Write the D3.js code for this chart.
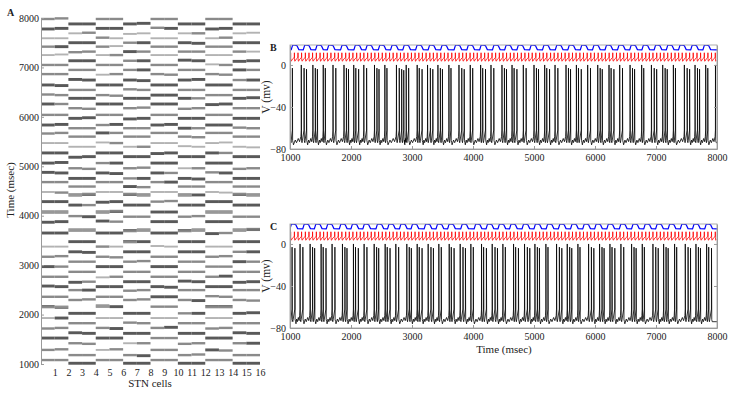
<!DOCTYPE html>
<html>
<head>
<meta charset="utf-8">
<script src="https://cdn.jsdelivr.net/npm/d3@7"></script>
<style>
body { margin: 0; background: #fff; }
text { font-family: "Liberation Serif", "Times New Roman", serif; fill: #222; }
</style>
</head>
<body>
<script>
// ---- panel A: burst centres (msec) of the two anti-phase STN clusters
const clusterOdd = [1080, 1285, 1525, 1730, 1930, 2160, 2360, 2565, 2765, 2970, 3170, 3375, 3650, 3880, 4075,
  4285, 4480, 4680, 4865, 5065, 5270, 5470, 5675, 5835, 6040, 6260, 6440, 6645, 6865, 7050, 7250, 7420, 7590, 7790, 7980]
const clusterEven = [1015, 1180, 1420, 1620, 1825, 2025, 2295, 2495, 2665, 2865, 3070, 3270, 3475, 3710, 3980,
  4215, 4420, 4590, 4755, 4960, 5195, 5395, 5600, 5770, 5970, 6175, 6375, 6545, 6745, 6950, 7135, 7320, 7500, 7690, 7880]

// per cell, one code per burst: 1 light, 2 mid, 3 dark, 4 split into thin lines, 0 none
const cellShade = [
  "22321 42323 21334 31233 31232 32322 12132",
  "22323 42322 21334 32233 31232 22322 13132",
  "32232 32232 23342 34232 31223 23232 32313",
  "32232 32322 23343 24232 31223 23232 32323",
  "21321 42313 22334 31232 31322 32312 12232",
  "22331 32323 21324 31233 32232 32322 21132",
  "32132 32232 23442 34322 31223 23232 23213",
  "33232 32232 23342 34232 32223 23233 32313",
  "22221 23323 21333 21233 31232 33322 12122",
  "22231 23323 21333 21323 31232 33322 12132",
  "32232 22232 23342 34231 31233 23232 32313",
  "32232 33232 23342 33232 31223 22232 32323",
  "23321 42322 21334 31223 31232 32321 12132",
  "22321 42332 21234 31233 21232 32322 12232",
  "32232 32232 32342 34232 31223 23223 32313",
  "32332 32232 23342 34232 31223 23232 31313"
]
// per cell, small timing offsets of each burst (5 = on the cluster time)
const cellShift = [
  "55545 55655 55545 55565 55455 56555 55545",
  "56555 45555 65555 54556 55565 55455 65556",
  "55565 55545 55556 55555 45555 55565 54555",
  "55455 56555 54555 56554 55556 45555 55565",
  "55555 65545 55565 45555 56555 55545 55655",
  "56545 55555 45556 55545 55565 54555 56555",
  "55556 55455 55545 56555 55554 55655 55545",
  "54555 56555 65555 55456 55555 65545 55556",
  "55555 55555 56555 55555 45555 55555 55565",
  "55565 55455 55555 65555 55565 55545 55555",
  "55455 55565 55545 55555 56555 45555 65555",
  "56555 54555 55556 55545 55455 55565 55455",
  "55545 56555 55455 55565 55555 45556 55545",
  "54555 55565 65555 54555 56555 55545 55655",
  "55565 55545 55555 56554 55565 55555 45555",
  "55555 64555 55565 55555 54555 56555 55565"
]
const cellIds = [1, 2, 3, 4, 5, 6, 7, 8, 9, 10, 11, 12, 13, 14, 15, 16]
const timeTicks = [1000, 2000, 3000, 4000, 5000, 6000, 7000, 8000]
const voltTicks = [0, -40, -80]

// ---- panels B and C: burst onsets (msec) and spikes per burst of the STN trace
const burstsB = [1005, 1185, 1375, 1545, 1705, 1885, 2045, 2210, 2385, 2555, 2745, 2905, 3085, 3255, 3425,
  3605, 3770, 3955, 4125, 4295, 4475, 4640, 4825, 5000, 5175, 5345, 5525, 5695, 5880, 6045,
  6230, 6405, 6575, 6765, 6925, 7110, 7285, 7465, 7640, 7815, 7975]
const spikesB = [2, 3, 3, 2, 2, 3, 3, 2, 3, 2, 4, 2, 3, 3, 3, 2, 3, 2, 3, 2, 3, 3, 2, 3, 3, 2, 3, 3, 2, 3,
  3, 2, 3, 2, 3, 3, 2, 3, 3, 2, 2]
const burstsC = [1000, 1165, 1330, 1510, 1690, 1860, 2040, 2215, 2380, 2560, 2735, 2915, 3085, 3265, 3440,
  3610, 3790, 3965, 4140, 4315, 4490, 4665, 4845, 5015, 5195, 5370, 5545, 5720, 5895, 6075,
  6245, 6425, 6600, 6775, 6950, 7125, 7305, 7480, 7655, 7830]
const spikesC = [3, 2, 3, 3, 2, 3, 3, 2, 3, 3, 2, 3, 3, 3, 2, 3, 3, 2, 3, 3, 2, 3, 3, 3, 2, 3, 3, 2, 3, 3,
  3, 2, 3, 2, 3, 3, 2, 3, 3, 3]
// gaps (msec) between the spikes inside a burst
const spikeGaps = [34, 46, 40]
// rise times (msec) of the blue synaptic trace
const blueB = [1020, 1218, 1420, 1612, 1830, 2048, 2242, 2448, 2650, 2850, 3060, 3265, 3470, 3690, 3900,
  4110, 4320, 4520, 4720, 4930, 5140, 5350, 5555, 5760, 5960, 6165, 6370, 6570, 6770, 6970, 7170, 7370, 7570, 7770]
const blueC = [1000, 1210, 1400, 1595, 1810, 2000, 2195, 2410, 2600, 2795, 2985, 3200, 3395, 3585, 3800,
  4020, 4215, 4410, 4600, 4805, 5000, 5200, 5400, 5600, 5800, 5995, 6195, 6400, 6600, 6800, 6995, 7200, 7400, 7600, 7800]
// spike times (msec) of the red input trace
const redSpikes = [1010, 1072, 1131, 1190, 1252, 1311, 1370, 1432, 1493, 1551, 1612, 1671, 1733, 1792, 1850,
  1913, 1972, 2031, 2093, 2152, 2211, 2273, 2332, 2391, 2452, 2513, 2571, 2632, 2691, 2752, 2811, 2870,
  2932, 2991, 3050, 3112, 3171, 3231, 3292, 3350, 3411, 3472, 3531, 3590, 3652, 3711, 3772, 3831, 3890,
  3952, 4011, 4070, 4132, 4191, 4250, 4312, 4371, 4432, 4491, 4550, 4612, 4671, 4730, 4792, 4851, 4912,
  4971, 5030, 5092, 5151, 5210, 5272, 5331, 5392, 5451, 5510, 5572, 5631, 5690, 5752, 5811, 5872, 5931,
  5990, 6052, 6111, 6170, 6232, 6291, 6352, 6411, 6470, 6532, 6591, 6650, 6712, 6771, 6832, 6891, 6950,
  7012, 7071, 7130, 7192, 7251, 7312, 7371, 7430, 7492, 7551, 7610, 7672, 7731, 7792, 7851, 7910, 7972]

const svg = d3.select("body").append("svg")
    .attr("width", 733)
    .attr("height", 393)

const axisGray = "#9a9a9a"

function styleAxis(g) {
    g.select(".domain").attr("stroke", axisGray)
    g.selectAll(".tick line").attr("stroke", axisGray)
    g.selectAll(".tick text").attr("fill", "#222")
    g.attr("font-family", null)
}

// ================= panel A
const xA = d3.scaleLinear().domain([0, 16]).range([41, 260])
const yA = d3.scaleLinear().domain([1000, 8000]).range([364, 18])

const shadeFill = { "1": "#b3b3b3", "2": "#8a8a8a", "3": "#595959", "4": "#6e6e6e" }
const shadeSize = { "1": 1.9, "2": 2.4, "3": 2.9, "4": 1 }

let bars = []
cellIds.forEach((c, i) => {
    const times = Math.floor(i / 2) % 2 === 0 ? clusterOdd : clusterEven
    const shade = cellShade[i].replace(/ /g, "")
    const shift = cellShift[i].replace(/ /g, "")
    times.forEach((t, k) => {
        const code = shade[k]
        if (code === "0") return
        const tc = t + (+shift[k] - 5) * 12
        if (code === "4") {
            [-22, 0, 22].forEach(o => bars.push({ cell: c, t: tc + o, code }))
        } else {
            bars.push({ cell: c, t: tc, code })
        }
    })
})

svg.append("g").selectAll("rect")
    .data(bars)
    .enter()
    .append("rect")
    .attr("x", d => xA(d.cell - 1))
    .attr("width", d => xA(d.cell) - xA(d.cell - 1))
    .attr("y", d => yA(d.t) - shadeSize[d.code] / 2)
    .attr("height", d => shadeSize[d.code])
    .style("fill", d => shadeFill[d.code])

svg.append("g")
    .attr("transform", `translate(${xA(0)},0)`)
    .attr("font-size", 10.5)
    .call(d3.axisLeft(yA).tickValues(timeTicks).tickSize(-3).tickSizeOuter(0).tickPadding(2).tickFormat(d3.format("d")))
    .call(styleAxis)

svg.append("g")
    .attr("transform", `translate(0,${yA(1000)})`)
    .attr("font-size", 10.5)
    .call(d3.axisBottom(xA).tickValues(cellIds).tickSize(0).tickSizeOuter(0).tickPadding(5).tickFormat(d3.format("d")))
    .call(g => g.select(".domain").remove())

svg.append("text").attr("x", 150).attr("y", 387).attr("text-anchor", "middle").attr("font-size", 11).text("STN cells")
svg.append("text").attr("transform", "translate(14,190) rotate(-90)").attr("text-anchor", "middle").attr("font-size", 11).text("Time (msec)")
svg.append("text").attr("x", 7).attr("y", 16).attr("font-size", 10).attr("font-weight", "bold").text("A")

// ================= panels B and C
const xT = d3.scaleLinear().domain([1000, 8000]).range([290, 717])

function stnPath(bursts, spikes) {
    const pts = [[1000, -71]]
    let end = null
    bursts.forEach((t0, i) => {
        if (end !== null) {
            const gap = t0 - end
            pts.push([end + 14, -76], [end + gap * 0.3, -71.5], [end + gap * 0.45, -74], [end + gap * 0.65, -70], [end + gap * 0.8, -73], [t0 - 6, -68])
        }
        let ts = t0
        for (let k = 0; k < spikes[i]; k++) {
            pts.push([ts - 1, -62], [ts, k === 0 ? 0 : -2 - k], [ts + 2, -40], [ts + 4, -72], [ts + 12, -74])
            end = ts + 4
            ts += spikeGaps[(i + k) % spikeGaps.length]
        }
    })
    pts.push([8000, -74])
    return pts.filter(p => p[0] >= 1000 && p[0] <= 8000)
}

function bluePath(rises) {
    const pts = [[1000, 14.5]]
    rises.forEach((r, i) => {
        const next = i < rises.length - 1 ? rises[i + 1] : 8000
        pts.push([r, 14.5], [r + 22, 18.6], [r + 45, 19], [r + 95, 18.3], [Math.min(r + 125, next - 5), 14.6], [next - 2, 14.3])
    })
    return pts.filter(p => p[0] >= 1000 && p[0] <= 8000)
}

function redPath(times) {
    const pts = [[1000, 7]]
    times.forEach((t, i) => {
        const next = i < times.length - 1 ? times[i + 1] : 8040
        pts.push([t - 1, 7.5], [t, 11.6], [t + 2, 6], [t + 6, 3.6], [t + 16, 4], [t + 30, 5.6], [next - 4, 7])
    })
    return pts.filter(p => p[0] >= 1000 && p[0] <= 8000)
}

function drawPanel(top, id, bursts, spikes, blue) {
    const y = d3.scaleLinear().domain([-80, 19]).range([top + 104, top])
    const g = svg.append("g")
    g.append("clipPath").attr("id", "clip" + id)
        .append("rect").attr("x", 290).attr("y", top).attr("width", 427).attr("height", 104)
    const line = d3.line().x(d => xT(d[0])).y(d => y(d[1]))
    const plot = g.append("g").attr("clip-path", `url(#clip${id})`)

    plot.append("path").attr("d", line(stnPath(bursts, spikes)))
        .attr("fill", "none").attr("stroke", "#000").attr("stroke-width", 0.8)
    plot.append("path").attr("d", line(redPath(redSpikes)))
        .attr("fill", "none").attr("stroke", "#ff0000").attr("stroke-width", 0.8)
    plot.append("path").attr("d", line(bluePath(blue)))
        .attr("fill", "none").attr("stroke", "#0000ff").attr("stroke-width", 1.2)

    g.append("rect").attr("x", 290).attr("y", top).attr("width", 427).attr("height", 104)
        .attr("fill", "none").attr("stroke", axisGray).attr("stroke-width", 0.8)

    g.append("g").attr("transform", `translate(0,${top + 104})`).attr("font-size", 10)
        .call(d3.axisBottom(xT).tickValues(timeTicks).tickSize(-3).tickSizeOuter(0).tickPadding(5).tickFormat(d3.format("d")))
        .call(styleAxis)
    g.append("g").attr("transform", "translate(290,0)").attr("font-size", 10)
        .call(d3.axisLeft(y).tickValues(voltTicks).tickSize(-3).tickSizeOuter(0).tickPadding(4))
        .call(styleAxis)
    g.append("g").attr("transform", "translate(717,0)")
        .call(d3.axisRight(y).tickValues(voltTicks).tickSize(-3).tickSizeOuter(0).tickFormat(""))
        .call(styleAxis)

    g.append("text").attr("transform", `translate(270,${top + 52}) rotate(-90)`)
        .attr("text-anchor", "middle").attr("font-size", 11.5).text("V (mv)")
    g.append("text").attr("x", 270).attr("y", top + 6).attr("font-size", 10).attr("font-weight", "bold").text(id)
}

drawPanel(45, "B", burstsB, spikesB, blueB)
drawPanel(224, "C", burstsC, spikesC, blueC)

svg.append("text").attr("x", 504).attr("y", 353).attr("text-anchor", "middle").attr("font-size", 11).text("Time (msec)")
</script>
</body>
</html>
